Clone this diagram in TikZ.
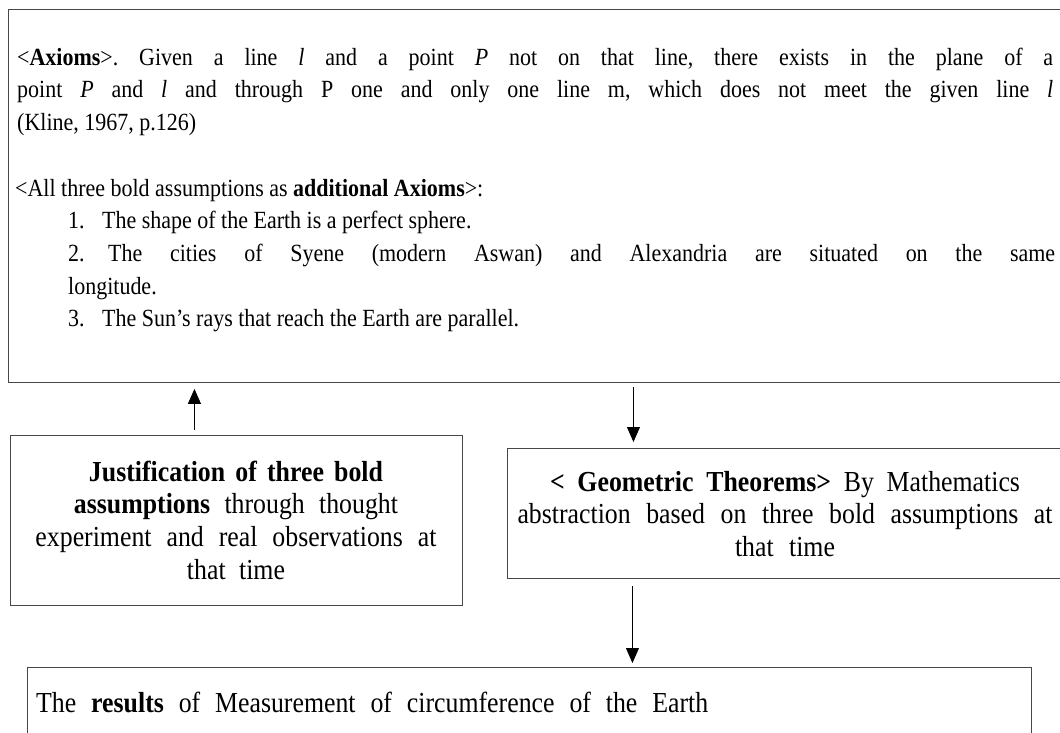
\documentclass[tikz,border=0pt]{standalone}
\usepackage{fontspec}
\setmainfont{Liberation Serif}[FakeStretch=0.89]
\usetikzlibrary{arrows.meta}
\newcommand{\spreadline}[2]{\makebox[#1][s]{\spaceskip=0pt\xspaceskip=0pt\relax #2}}
\frenchspacing
\begin{document}
\begin{tikzpicture}[x=1pt,y=-1pt,
  boxnode/.style={draw=black!72, line width=0.9pt, rectangle, inner sep=0pt, anchor=north west},
  txt/.style={inner sep=0pt, font=\fontsize{24.7}{32.7}\selectfont\frenchspacing, anchor=base west},
  lowtxt/.style={inner sep=0pt, font=\fontsize{29}{32.7}\selectfont\frenchspacing, anchor=base west},
  ctxt/.style={lowtxt, anchor=base, align=center},
  arr/.style={draw=black, line width=0.8pt, -{Triangle[width=13pt,length=15pt]}}]
\useasboundingbox (0,0) rectangle (1060,732);
\clip (0,0) rectangle (1060,732);
\fill[white] (0,0) rectangle (1060,732);
% boxes
\node[boxnode, minimum width=1075pt, minimum height=373pt] (ax) at (7.5,9) {};
\node[boxnode, minimum width=452pt, minimum height=170pt] (jus) at (10,435) {};
\node[boxnode, minimum width=556pt, minimum height=130pt] (geo) at (507,448) {};
\node[boxnode, minimum width=1004pt, minimum height=100pt] (res) at (27,667) {};
% texts in the axioms box
\node[txt, text width=1036pt, align=justify] (p1) at (17,65) {<\textbf{Axioms}>. Given a line \textit{l} and a point \textit{P} not on that line, there exists in the plane of a\linebreak point \textit{P} and \textit{l} and through P one and only one line m, which does not meet the given line \textit{l}\linebreak (Kline, 1967, p.126)};
\node[txt] (p2) at (15,196) {<All three bold assumptions as \textbf{additional Axioms}>:};
\node[txt] (i1) at (68,228.7) {\makebox[34pt][l]{1.}The shape of the Earth is a perfect sphere.};
\node[txt, text width=987pt, align=justify] (i2) at (68,261.4) {\hangindent=36pt\hangafter=1 \makebox[40pt][l]{2.}The cities of Syene (modern Aswan) and Alexandria are situated on the same\linebreak longitude.};
\node[txt] (i3) at (68,326.8) {\makebox[34pt][l]{3.}The Sun’s rays that reach the Earth are parallel.};
% justification box text
\node[ctxt, text width=440pt] (jt) at (236,481) {\spreadline{294pt}{\textbf{Justification of three bold}}\\ \spreadline{324pt}{\textbf{assumptions} through thought}\\ \spreadline{401pt}{experiment and real observations at}\\ \spreadline{98pt}{that time}};
% geometric box text
\node[ctxt, text width=545pt] (gt) at (785,491) {\spreadline{470pt}{\textbf{< Geometric Theorems>} By Mathematics}\\ \spreadline{535pt}{abstraction based on three bold assumptions at}\\ \spreadline{100pt}{that time}};
% results box text
\node[lowtxt] (rt) at (36,712) {\spreadline{672pt}{The \textbf{results} of Measurement of circumference of the Earth}};
% connectors
\coordinate (a1) at ([xshift=-42pt]jus.north);
\coordinate (a2) at ([xshift=-152pt]geo.north);
\coordinate (a3) at ([xshift=-153pt]geo.south);
\draw[arr, shorten <=5pt, shorten >=6pt] (a1) -- (a1 |- ax.south);
\draw[arr, shorten <=4pt, shorten >=6pt] (a2 |- ax.south) -- (a2);
\draw[arr, shorten <=7pt, shorten >=4pt] (a3) -- (a3 |- res.north);
\end{tikzpicture}
\end{document}
